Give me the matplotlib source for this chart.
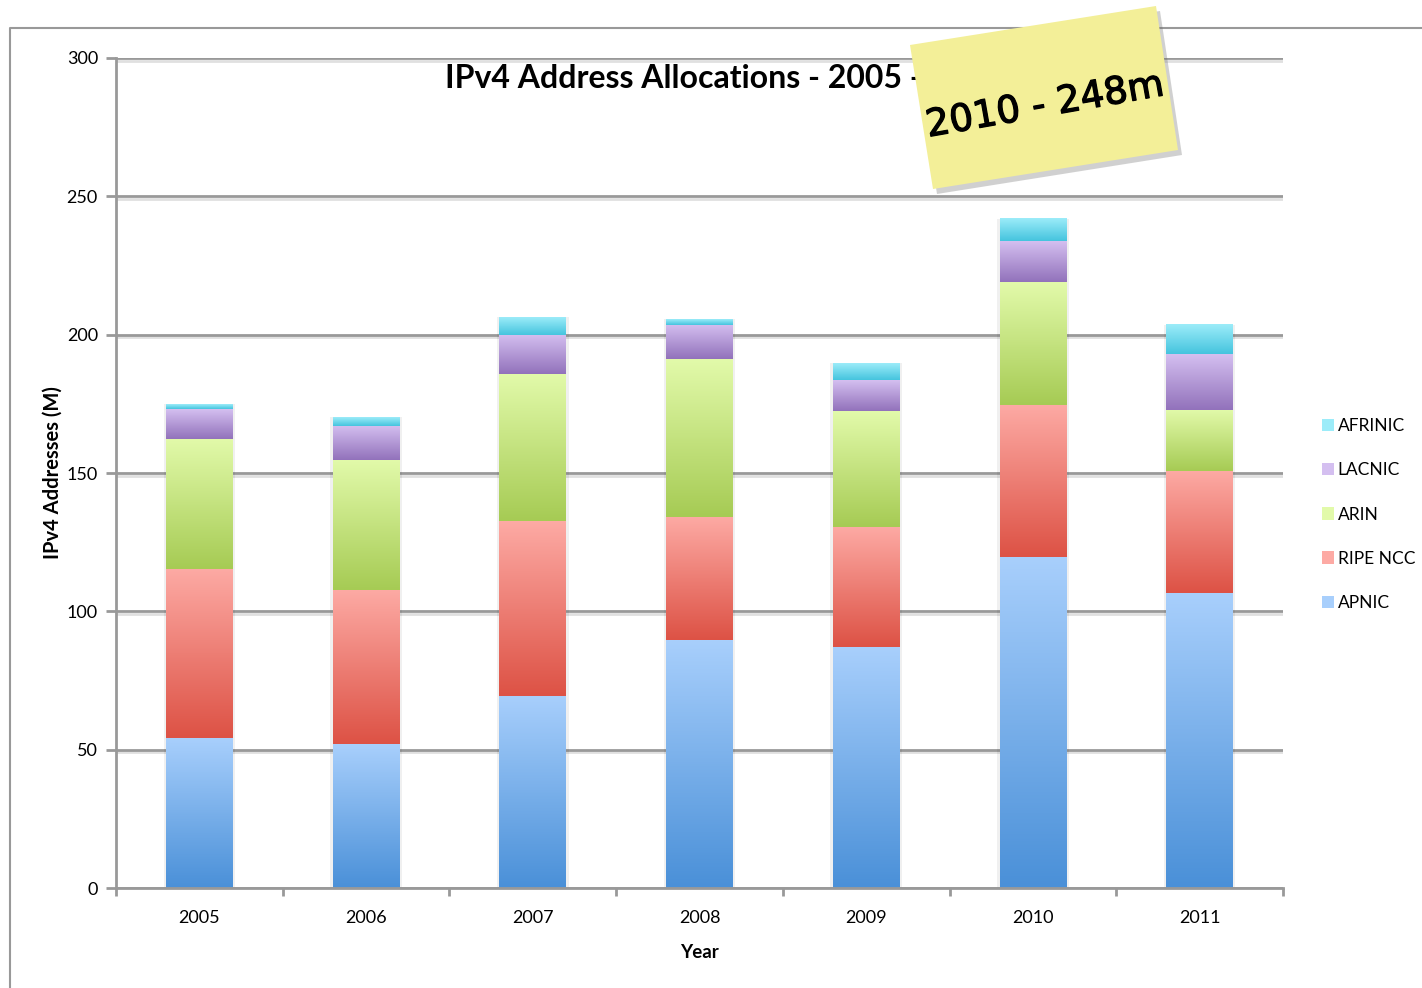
import numpy as np
import matplotlib
matplotlib.use("Agg")
import matplotlib.pyplot as plt
from matplotlib.colors import LinearSegmentedColormap
from matplotlib.patches import Polygon
from matplotlib.lines import Line2D
import matplotlib.patheffects as pe

plt.rcParams["font.family"] = ["Lato", "DejaVu Sans"]

years = ["2005", "2006", "2007", "2008", "2009", "2010", "2011"]
apnic = [54.2, 52.0, 69.4, 89.6, 87.1, 119.6, 106.6]
ripe = [61.1, 55.7, 63.2, 44.5, 43.4, 55.0, 44.1]
arin = [47.0, 47.0, 53.2, 57.1, 41.9, 44.4, 22.1]
lacnic = [10.8, 12.3, 14.1, 12.3, 11.2, 14.8, 20.2]
afrinic = [1.8, 3.2, 6.5, 2.1, 6.1, 8.0, 10.5]

series_names = ["APNIC", "RIPE NCC", "ARIN", "LACNIC", "AFRINIC"]
series_vals = [apnic, ripe, arin, lacnic, afrinic]
# (bottom colour, top colour) for the vertical gradients
grad = [("#4a90d8", "#a8cffc"),
        ("#dd5245", "#fdaaa4"),
        ("#a6cb54", "#e2faaa"),
        ("#9272bb", "#d4bff0"),
        ("#45c4de", "#9cecf9")]

W, H = 1422, 988
fig = plt.figure(figsize=(W / 100, H / 100), dpi=100)
ax = fig.add_axes([116 / W, 1 - 888 / H, (1283 - 116) / W, (888 - 58) / H])

x = np.arange(len(years))
width = 0.4

# soft shadow behind each stack
totals = np.sum(series_vals, axis=0)
ax.bar(x, totals, width=width + 0.03, color="#000000", alpha=0.06, zorder=1.5, linewidth=0)

bottom = np.zeros(len(years))
handles = []
for name, vals, (c0, c1) in zip(series_names, series_vals, grad):
    bars = ax.bar(x, vals, width=width, bottom=bottom, color=c1, label=name, zorder=2, linewidth=0)
    cmap = LinearSegmentedColormap.from_list(name, [c0, c1])
    g = np.linspace(0, 1, 128).reshape(-1, 1)
    for p in bars.patches:
        ax.imshow(g, cmap=cmap, origin="lower", aspect="auto", zorder=2.1,
                  extent=(p.get_x(), p.get_x() + p.get_width(), p.get_y(), p.get_y() + p.get_height()))
    handles.append(bars)
    bottom += np.array(vals)

ax.set_xlim(-0.5, len(years) - 0.5)
ax.set_ylim(0, 300)
ax.set_yticks(np.arange(0, 301, 50))
ax.set_xticks(x)
ax.set_xticklabels(years)
ax.set_xticks(np.arange(-0.5, len(years)), minor=True)

ax.grid(axis="y", color="#999999", linewidth=2,
        path_effects=[pe.SimpleLineShadow(offset=(0, -2), shadow_color="#cccccc", alpha=0.6), pe.Normal()])
ax.set_axisbelow(True)
for s in ["top", "right"]:
    ax.spines[s].set_visible(False)
for s in ["left", "bottom"]:
    ax.spines[s].set_color("#999999")
    ax.spines[s].set_linewidth(2)

ax.tick_params(axis="y", length=7, width=2, color="#999999", labelsize=13, pad=6)
ax.tick_params(axis="x", which="major", length=0, labelsize=13, pad=16)
ax.tick_params(axis="x", which="minor", length=6, width=2, color="#999999")

ax.set_ylabel("IPv4 Addresses (M)", fontsize=14.5, fontweight="bold", labelpad=3)
ax.set_xlabel("Year", fontsize=13.5, fontweight="bold", labelpad=13)

fig.text(445 / W, 1 - 78 / H, "IPv4 Address Allocations - 2005 - 2011", fontsize=23,
         fontweight="bold", ha="left", va="center")

leg = ax.legend(handles[::-1], series_names[::-1], loc="center left",
                bbox_to_anchor=(1.02, 0.45), frameon=False, fontsize=12.5,
                handlelength=0.7, handleheight=0.7, handletextpad=0.2, labelspacing=1.62)

# outer frame of the slide
fig.add_artist(Line2D([10 / W, 10 / W, 1.0], [0, 1 - 28 / H, 1 - 28 / H],
                      transform=fig.transFigure, color="#999999", linewidth=1.5))

# sticky note
note = [(910, 45), (1156, 6), (1178, 150), (933, 189)]
shadow = [(px + 4, py + 5) for px, py in note]
fig.add_artist(Polygon([(px / W, 1 - py / H) for px, py in shadow], closed=True,
                       transform=fig.transFigure, facecolor="#666666", alpha=0.3,
                       edgecolor="none", zorder=9))
fig.add_artist(Polygon([(px / W, 1 - py / H) for px, py in note], closed=True,
                       transform=fig.transFigure, facecolor="#f3ef98",
                       edgecolor="none", zorder=10))
fig.text(1045 / W, 1 - 106 / H, "2010 - 248m", fontsize=27, rotation=10,
         ha="center", va="center", rotation_mode="anchor", zorder=11,
         family=["DejaVu Sans"],
         path_effects=[pe.withStroke(linewidth=0.9, foreground="black")])

fig.savefig("out.png", dpi=100)
